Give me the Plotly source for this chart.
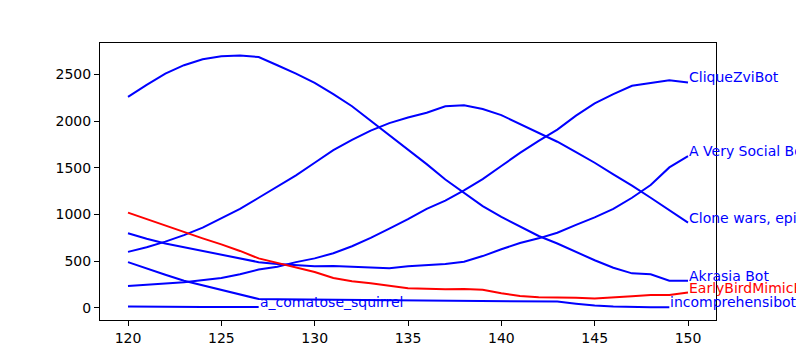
import plotly.graph_objects as go

rounds = list(range(120, 151))

clique_zvi = [235, 245, 260, 275, 300, 320, 360, 410, 440, 490, 530, 585, 660, 750, 850, 950,
              1060, 1150, 1260, 1380, 1520, 1660, 1790, 1910, 2060, 2190, 2290, 2380, 2410, 2440, 2415]
very_social = [800, 740, 690, 650, 610, 570, 530, 490, 470, 455, 445, 449, 440, 430, 425, 445,
               460, 470, 495, 555, 628, 695, 745, 805, 890, 970, 1060, 1180, 1316, 1505, 1626]
clone_wars = [600, 650, 710, 780, 860, 960, 1060, 1180, 1300, 1420, 1555, 1690, 1800, 1900, 1980, 2040,
              2090, 2160, 2172, 2130, 2065, 1970, 1880, 1780, 1670, 1555, 1430, 1310, 1180, 1050, 913]
akrasia = [2260, 2390, 2510, 2600, 2664, 2697, 2703, 2688, 2600, 2510, 2410, 2290, 2160, 2005, 1850, 1700,
           1540, 1375, 1230, 1090, 975, 870, 770, 690, 600, 510, 430, 370, 360, 290, 290]
early_bird = [1020, 950, 880, 810, 745, 680, 610, 530, 480, 430, 385, 320, 285, 265, 240, 210,
              205, 200, 203, 193, 157, 128, 115, 114, 108, 100, 110, 125, 139, 139, 164]
incomprehensibot = [490, 420, 355, 290, 240, 190, 140, 95, 92, 90, 88, 86, 84, 82, 80, 78,
                    77, 76, 75, 74, 72, 70, 69, 67, 45, 25, 15, 8, 7, 7]
comatose = [15, 12, 10, 10, 10, 10, 10, 10]

series = [
    ("CliqueZviBot", clique_zvi, "#0000ff"),
    ("A Very Social Bot", very_social, "#0000ff"),
    ("Clone wars, episode", clone_wars, "#0000ff"),
    ("Akrasia Bot", akrasia, "#0000ff"),
    ("EarlyBirdMimicBot", early_bird, "#ff0000"),
    ("incomprehensibot", incomprehensibot, "#0000ff"),
    ("a_comatose_squirrel", comatose, "#0000ff"),
]

fig = go.Figure()
annotations = []
for name, vals, color in series:
    xs = rounds[:len(vals)]
    fig.add_trace(go.Scatter(x=xs, y=vals, mode="lines", name=name,
                             line=dict(color=color, width=2), showlegend=False))
    annotations.append(dict(x=xs[-1], y=vals[-1], xref="x", yref="y", text=name,
                            showarrow=False, xanchor="left", yanchor="middle",
                            yshift=5, xshift=-1,
                            font=dict(color=color, size=14, family="DejaVu Sans")))

axis_common = dict(showgrid=False, zeroline=False, showline=True, linecolor="black",
                   linewidth=1, mirror=True, ticks="outside", ticklen=5, tickwidth=1,
                   tickcolor="black", tickfont=dict(size=14, color="black", family="DejaVu Sans"))

fig.update_layout(
    width=796, height=360,
    margin=dict(l=100, r=80, t=43, b=40),
    paper_bgcolor="white", plot_bgcolor="white",
    xaxis=dict(range=[118.5, 151.5], tickvals=[120, 125, 130, 135, 140, 145, 150], **axis_common),
    yaxis=dict(range=[-130, 2838], tickvals=[0, 500, 1000, 1500, 2000, 2500], **axis_common),
    annotations=annotations,
    font=dict(family="DejaVu Sans"),
)

fig.write_html(
    "out.html",
    config={"displayModeBar": False},
    post_script="document.body.style.margin='0';document.body.style.overflow='hidden';",
)
